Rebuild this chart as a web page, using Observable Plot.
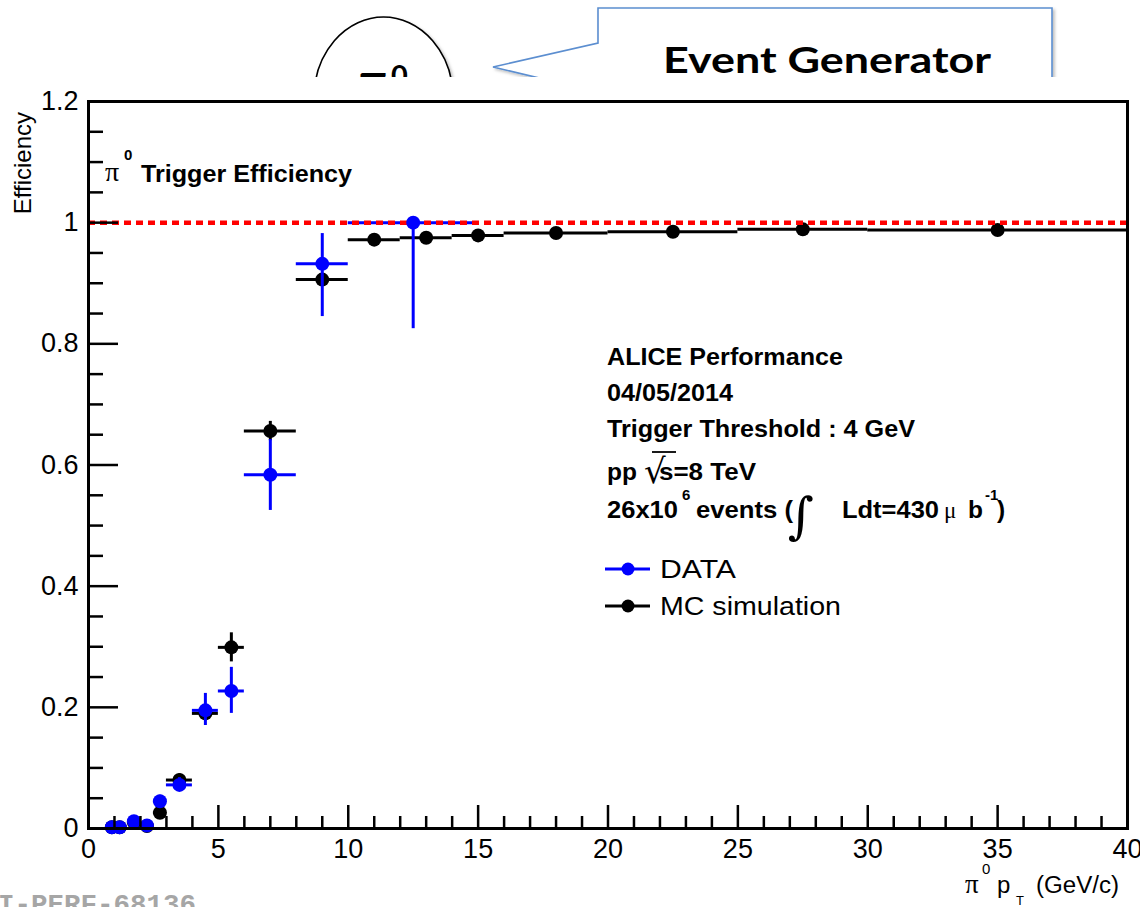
<!DOCTYPE html>
<html><head><meta charset="utf-8">
<script src="https://cdn.jsdelivr.net/npm/d3@7"></script>
<script src="https://cdn.jsdelivr.net/npm/@observablehq/plot@0.6"></script>
<style>
html,body{margin:0;padding:0;background:#fff;overflow:hidden}
#wrap{position:relative;width:1140px;height:907px;overflow:hidden;background:#fff}
#chart{position:absolute;left:0;top:0}
#slide{position:absolute;left:0;top:0}
</style></head><body>
<div id="wrap"><div id="chart"></div><svg id="slide" width="1140" height="907"></svg></div>
<script>
// ---- data ----
const seriesNames = ["DATA", "MC simulation"];
const dataLo   = [0.8, 1.0, 1.5, 2.0, 2.5, 3, 4, 5, 6, 8, 10];
const dataHi   = [1.0, 1.5, 2.0, 2.5, 3.0, 4, 5, 6, 8, 10, 15];
const dataX    = [0.9, 1.2, 1.75, 2.25, 2.75, 3.5, 4.5, 5.5, 7, 9, 12.5];
const dataEff  = [0.002, 0.002, 0.012, 0.005, 0.045, 0.072, 0.195, 0.227, 0.584, 0.932, 1.0];
const dataErrLo= [0.002, 0.002, 0.004, 0.003, 0.008, 0.010, 0.025, 0.037, 0.059, 0.087, 0.175];
const dataErrHi= [0.004, 0.004, 0.006, 0.005, 0.010, 0.012, 0.028, 0.039, 0.058, 0.050, 0.0];

const mcLo  = [0.8, 1.0, 1.5, 2.0, 2.5, 3, 4, 5, 6, 8, 10, 12, 14, 16, 20, 25, 30];
const mcHi  = [1.0, 1.5, 2.0, 2.5, 3.0, 4, 5, 6, 8, 10, 12, 14, 16, 20, 25, 30, 40];
const mcX   = [0.9, 1.2, 1.75, 2.25, 2.75, 3.5, 4.5, 5.5, 7, 9, 11, 13, 15, 18, 22.5, 27.5, 35];
const mcEff = [0.002, 0.002, 0.010, 0.004, 0.026, 0.080, 0.190, 0.299, 0.656, 0.906, 0.972, 0.975, 0.979, 0.983, 0.985, 0.989, 0.988];
const mcErr = [0.001, 0.001, 0.002, 0.002, 0.005, 0.010, 0.012, 0.024, 0.016, 0.010, 0.004, 0.004, 0.003, 0.003, 0.003, 0.003, 0.003];

const xTicks = [0, 5, 10, 15, 20, 25, 30, 35, 40];
const yTicks = [0, 0.2, 0.4, 0.6, 0.8, 1, 1.2];
const yTickLabels = ["0", "0.2", "0.4", "0.6", "0.8", "1", "1.2"];
const referenceLine = [1];

// ---- tables ----
const data = dataX.map((x, i) => ({x, lo: dataLo[i], hi: dataHi[i], y: dataEff[i], y1: dataEff[i] - dataErrLo[i], y2: dataEff[i] + dataErrHi[i]}));
const mc = mcX.map((x, i) => ({x, lo: mcLo[i], hi: mcHi[i], y: mcEff[i], y1: mcEff[i] - mcErr[i], y2: mcEff[i] + mcErr[i]}));
const xMinor = d3.range(0, 41, 1).filter(v => v % 5 !== 0);
const yMinor = d3.range(0, 25).map(i => +(i * 0.05).toFixed(2)).filter((v, i) => i % 4 !== 0);

const W = 1140, H = 907, mL = 88, mR = 13, mT = 101, mB = 79;
const pw = W - mL - mR, ph = H - mT - mB;
const SANS = "'Liberation Sans', Arial, Helvetica, sans-serif";
const SERIF = "'Liberation Serif', 'DejaVu Serif', serif";
const BLUE = "#0000ff";

const chart = Plot.plot({
  width: W, height: H,
  marginLeft: mL, marginRight: mR, marginTop: mT, marginBottom: mB,
  x: {domain: [0, 40], label: null},
  y: {domain: [0, 1.2], label: null},
  style: {fontFamily: SANS, fontSize: "27px", color: "#000", background: "transparent", overflow: "visible"},
  marks: [
    Plot.ruleY(mc, {y: "y", x1: "lo", x2: "hi", stroke: "#000", strokeWidth: 3}),
    Plot.ruleX(mc, {x: "x", y1: "y1", y2: "y2", stroke: "#000", strokeWidth: 3}),
    Plot.dot(mc, {x: "x", y: "y", r: 7, fill: "#000", stroke: "none"}),
    Plot.ruleY(data, {y: "y", x1: "lo", x2: "hi", stroke: BLUE, strokeWidth: 3}),
    Plot.ruleX(data, {x: "x", y1: "y1", y2: "y2", stroke: BLUE, strokeWidth: 3}),
    Plot.ruleY(referenceLine, {stroke: "#ff0000", strokeWidth: 4.5, strokeDasharray: "7,5"}),
    Plot.dot(data, {x: "x", y: "y", r: 7, fill: BLUE, stroke: "none"}),
    Plot.ruleX(xTicks, {insetTop: ph - 23, stroke: "#000", strokeWidth: 2.5}),
    Plot.ruleX(xMinor, {insetTop: ph - 12, stroke: "#000", strokeWidth: 2.5}),
    Plot.ruleY(yTicks, {insetRight: pw - 30, stroke: "#000", strokeWidth: 2.5}),
    Plot.ruleY(yMinor, {insetRight: pw - 15, stroke: "#000", strokeWidth: 2.5}),
    Plot.frame({stroke: "#000", strokeWidth: 3}),
    Plot.axisX(xTicks, {tickSize: 0, tickPadding: 10, tickFormat: d => String(d), label: null}),
    Plot.axisY(yTicks, {tickSize: 0, tickPadding: 10, tickFormat: d => yTickLabels[yTicks.indexOf(d)], label: null})
  ]
});
document.getElementById("chart").appendChild(chart);

// ---- annotations ----
const svg = d3.select(chart);
const g = svg.append("g").attr("fill", "#000").attr("text-anchor", "start");
function txt(x, y, s, o = {}) {
  const t = g.append("text").attr("x", x).attr("y", y).text(s)
    .attr("font-family", o.family || SANS).attr("font-size", o.size || 24.5)
    .attr("font-weight", o.bold ? "bold" : "normal")
    .attr("text-anchor", o.anchor || "start");
  if (o.len) t.attr("textLength", o.len).attr("lengthAdjust", "spacingAndGlyphs");
  if (o.fill) t.attr("fill", o.fill);
  return t;
}
// y title
g.append("text").attr("transform", "translate(31,112) rotate(-90)").attr("text-anchor", "end")
  .attr("font-family", SANS).attr("font-size", 24).text("Efficiency");
// x title
txt(965, 893, "π", {family: SERIF, size: 27});
txt(982, 874, "0", {size: 15});
txt(997, 893, "p", {size: 24});
txt(1016, 905, "T", {size: 13});
txt(1119, 893, "(GeV/c)", {size: 23.5, anchor: "end", len: 83});

// plot label
txt(105, 181, "π", {family: SERIF, size: 28});
txt(124, 160, "0", {size: 15, bold: true});
txt(141, 182, "Trigger Efficiency", {bold: true, len: 211});

// info block
txt(607, 365, "ALICE Performance", {bold: true, len: 236});
txt(607, 401, "04/05/2014", {bold: true, len: 126});
txt(607, 437, "Trigger Threshold : 4 GeV", {bold: true, len: 308});
txt(607, 480, "pp", {bold: true});
txt(644, 483, "√", {size: 34, family: "'DejaVu Sans', sans-serif"});
g.append("line").attr("x1", 652).attr("x2", 676).attr("y1", 452).attr("y2", 452).attr("stroke", "#000").attr("stroke-width", 1.8);
txt(659, 480, "s=8 TeV", {bold: true, len: 97});
txt(607, 518, "26x10", {bold: true, len: 71});
txt(682, 500, "6", {size: 15, bold: true});
txt(696, 518, "events (", {bold: true, len: 97});
txt(788, 533, "∫", {size: 50, family: "'DejaVu Serif', serif"});
txt(842, 518, "Ldt=430", {bold: true, len: 97});
txt(944, 518, "μ", {family: SERIF, size: 23});
txt(968, 518, "b", {bold: true});
txt(985, 500, "-1", {size: 15, bold: true});
txt(997, 518, ")", {bold: true});

// legend
const legendY = [569, 606], legendColor = [BLUE, "#000"], legendLen = [76, 181];
seriesNames.forEach((name, i) => {
  g.append("line").attr("x1", 605).attr("x2", 650).attr("y1", legendY[i]).attr("y2", legendY[i]).attr("stroke", legendColor[i]).attr("stroke-width", 3);
  g.append("circle").attr("cx", 628).attr("cy", legendY[i]).attr("r", 6.5).attr("fill", legendColor[i]);
  txt(660, legendY[i] + 9, name, {size: 25.5, len: legendLen[i]});
});

// watermark
txt(196, 913, "ALI-PERF-68136", {family: "'Liberation Mono', 'DejaVu Sans Mono', monospace", size: 27.5, bold: true, fill: "#a6a6a6", anchor: "end"});

// ---- slide elements behind the figure (visible only above it) ----
const slide = d3.select("#slide");
const defs = slide.append("defs");
defs.append("clipPath").attr("id", "topclip").append("rect").attr("x", 0).attr("y", 0).attr("width", 1140).attr("height", 77);
defs.append("filter").attr("id", "sh").attr("x", "-10%").attr("y", "-10%").attr("width", "130%").attr("height", "130%")
  .append("feDropShadow").attr("dx", 2).attr("dy", 2).attr("stdDeviation", 1.5).attr("flood-color", "#000").attr("flood-opacity", 0.25);
const topG = slide.append("g").attr("clip-path", "url(#topclip)");
topG.append("ellipse").attr("cx", 383.5).attr("cy", 98).attr("rx", 69.5).attr("ry", 81).attr("fill", "#fff").attr("stroke", "#000").attr("stroke-width", 1.6).attr("filter", "url(#sh)");
topG.append("text").attr("x", 359).attr("y", 96).attr("font-family", "Lato, 'Open Sans', sans-serif").attr("font-weight", "bold").attr("font-size", 44).text("π");
topG.append("text").attr("x", 391).attr("y", 86).attr("font-family", "Lato, 'Open Sans', sans-serif").attr("font-weight", "bold").attr("font-size", 29).text("0");
topG.append("path").attr("d", "M598,8 L1052,8 L1052,220 L598,220 L598,92 L493,67 L598,43 Z")
  .attr("fill", "#fff").attr("stroke", "#5b8ed0").attr("stroke-width", 1.6).attr("stroke-linejoin", "miter").attr("filter", "url(#sh)");
topG.append("text").attr("x", 663).attr("y", 73).attr("font-family", "Lato, 'Open Sans', sans-serif").attr("font-weight", "bold").attr("font-size", 37)
  .attr("textLength", 328).attr("lengthAdjust", "spacingAndGlyphs").text("Event Generator");
</script>
</body></html>
